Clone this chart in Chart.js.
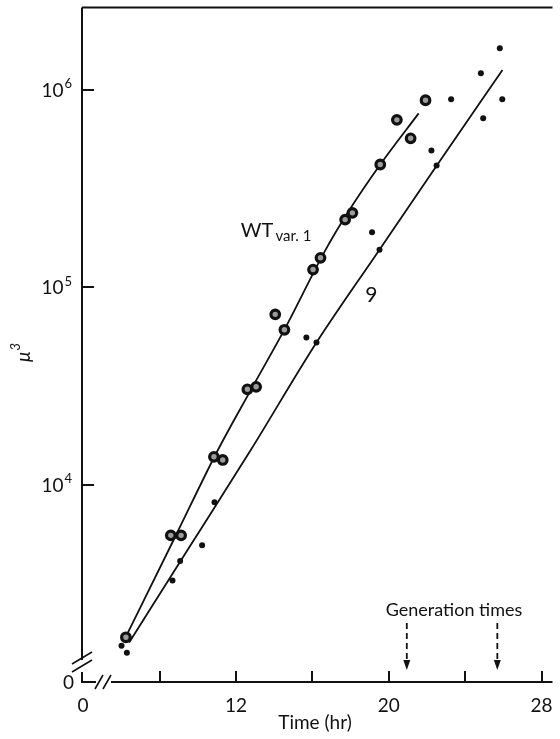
<!DOCTYPE html>
<html>
<head>
<meta charset="utf-8">
<script src="https://cdn.jsdelivr.net/npm/chart.js@4"></script>
<style>
  html, body { margin: 0; padding: 0; background: #fff; }
  canvas { display: block; }
</style>
</head>
<body>
<canvas id="growth" width="560" height="739"></canvas>
<script>
// cell volume (cubic microns) against time for two strains, log scale
const wtHours = [6.23, 8.58, 9.12, 10.84, 11.30, 12.59, 13.05, 14.05, 14.53, 16.03, 16.42, 17.71, 18.09, 19.55, 20.42, 21.14, 21.92];
const wtVolumes = [1700, 5570, 5570, 13900, 13400, 30500, 31400, 73000, 61000, 123000, 141000, 220000, 238000, 418000, 703000, 567000, 883000];

const s9Hours = [6.00, 6.28, 8.67, 9.07, 10.22, 10.87, 15.68, 16.21, 19.12, 19.51, 22.23, 22.50, 23.26, 24.82, 24.94, 25.81, 25.94];
const s9Volumes = [1540, 1420, 3290, 4130, 4960, 8180, 55700, 52600, 190000, 155000, 492000, 413000, 893000, 1210000, 716000, 1620000, 893000];

// hand-fitted curves
const wtFitHours = [6.23, 8.81, 11.04, 12.79, 14.53, 16.67, 17.85, 19.55, 21.56];
const wtFitVolumes = [1714, 5480, 15000, 30500, 61100, 153800, 239000, 418000, 758000];
const s9FitHours = [6.40, 9.49, 12.76, 16.21, 19.51, 22.51, 25.95];
const s9FitVolumes = [1600, 4750, 15000, 52600, 155000, 413000, 1257000];

const xTicks = [8, 12, 16, 20, 24, 28];
const xTickLabels = ['', '12', '', '20', '', '28'];
const yTicks = [1e4, 1e5, 1e6];
const yTickExponents = ['4', '5', '6'];
const generationTimes = [20.94, 25.68];

const FONT = 'Lato, "Open Sans", sans-serif';
const INK = '#111';

const pairs = (xs, ys) => xs.map((x, i) => ({ x, y: ys[i] }));

const paperAxes = {
  id: 'paperAxes',
  beforeDatasetsDraw(chart) {
    const { ctx, chartArea: a, scales: { x, y } } = chart;
    ctx.save();
    ctx.strokeStyle = INK;
    ctx.lineWidth = 2;
    ctx.lineCap = 'butt';

    // frame: top edge, y axis with break, x axis with break
    ctx.beginPath();
    ctx.moveTo(a.left, a.top);
    ctx.lineTo(a.right, a.top);
    ctx.moveTo(a.left, a.top);
    ctx.lineTo(a.left, a.bottom - 22);
    ctx.moveTo(a.left, a.bottom - 10);
    ctx.lineTo(a.left, a.bottom);
    ctx.lineTo(a.left + 14, a.bottom);
    ctx.moveTo(a.left + 29, a.bottom);
    ctx.lineTo(a.right, a.bottom);
    ctx.stroke();

    // break marks
    ctx.lineWidth = 1.6;
    ctx.beginPath();
    [[a.left, a.bottom - 24], [a.left, a.bottom - 16]].forEach(([cx, cy]) => {
      ctx.moveTo(cx - 10, cy + 6);
      ctx.lineTo(cx + 10, cy - 6);
    });
    [[a.left + 17, a.bottom], [a.left + 25, a.bottom]].forEach(([cx, cy]) => {
      ctx.moveTo(cx - 4, cy + 7);
      ctx.lineTo(cx + 4, cy - 7);
    });
    ctx.stroke();

    // inward ticks
    ctx.lineWidth = 2;
    ctx.beginPath();
    xTicks.forEach((v) => {
      const px = Math.round(x.getPixelForValue(v));
      ctx.moveTo(px, a.bottom);
      ctx.lineTo(px, a.bottom - 11);
    });
    yTicks.forEach((v) => {
      const py = Math.round(y.getPixelForValue(v));
      ctx.moveTo(a.left, py);
      ctx.lineTo(a.left + 12, py);
    });
    ctx.stroke();
    ctx.restore();
  },
  afterDraw(chart) {
    const { ctx, chartArea: a, scales: { x, y } } = chart;
    ctx.save();
    ctx.fillStyle = INK;
    ctx.strokeStyle = INK;

    // y tick labels as powers of ten
    ctx.textBaseline = 'middle';
    yTicks.forEach((v, i) => {
      const py = y.getPixelForValue(v);
      ctx.font = `13px ${FONT}`;
      const ew = ctx.measureText(yTickExponents[i]).width;
      ctx.font = `19px ${FONT}`;
      const bw = ctx.measureText('10').width;
      const right = a.left - 10;
      ctx.textAlign = 'left';
      ctx.fillText('10', right - ew - bw - 1, py + 1);
      ctx.font = `13px ${FONT}`;
      ctx.fillText(yTickExponents[i], right - ew, py - 6);
    });

    // broken-axis zeros
    ctx.font = `19px ${FONT}`;
    ctx.textAlign = 'right';
    ctx.fillText('0', a.left - 8, a.bottom + 1);
    ctx.textAlign = 'center';
    ctx.fillText('0', a.left + 1, a.bottom + 24);

    xTicks.forEach((v, i) => {
      if (!xTickLabels[i]) return;
      ctx.fillText(xTickLabels[i], x.getPixelForValue(v), a.bottom + 24);
    });

    ctx.fillText('Time (hr)', 315, a.bottom + 41);

    // y axis title
    ctx.save();
    ctx.translate(22, 352);
    ctx.rotate(-Math.PI / 2);
    ctx.font = `italic 19px ${FONT}`;
    ctx.textAlign = 'left';
    const mw = ctx.measureText('\u03bc').width;
    ctx.fillText('\u03bc', -10, 2);
    ctx.font = `italic 13px ${FONT}`;
    ctx.fillText('3', -10 + mw + 1, -6);
    ctx.restore();

    // series names
    ctx.textAlign = 'left';
    ctx.textBaseline = 'alphabetic';
    const wx = x.getPixelForValue(12.25);
    const wy = y.getPixelForValue(179000);
    ctx.font = `20px ${FONT}`;
    ctx.fillText('WT', wx, wy);
    const tw = ctx.measureText('WT').width;
    ctx.font = `15px ${FONT}`;
    ctx.fillText('var. 1', wx + tw + 2, wy + 4);
    ctx.font = `21px ${FONT}`;
    ctx.fillText('9', x.getPixelForValue(18.77), y.getPixelForValue(84000));

    // generation time arrows
    ctx.font = `18px ${FONT}`;
    ctx.textAlign = 'center';
    ctx.textBaseline = 'middle';
    ctx.fillText('Generation times', 454, a.bottom - 72);
    ctx.lineWidth = 1.8;
    generationTimes.forEach((h) => {
      const px = x.getPixelForValue(h);
      const top = a.bottom - 59;
      const tip = a.bottom - 12;
      ctx.setLineDash([6, 4]);
      ctx.beginPath();
      ctx.moveTo(px, top);
      ctx.lineTo(px, tip - 6);
      ctx.stroke();
      ctx.setLineDash([]);
      ctx.beginPath();
      ctx.moveTo(px, tip);
      ctx.lineTo(px - 3.5, tip - 10);
      ctx.lineTo(px + 3.5, tip - 10);
      ctx.closePath();
      ctx.fill();
    });
    ctx.restore();
  },
};

new Chart(document.getElementById('growth'), {
  type: 'scatter',
  data: {
    datasets: [
      {
        label: 'WT var. 1',
        data: pairs(wtHours, wtVolumes),
        pointRadius: 4.3,
        pointBorderWidth: 3.2,
        pointBorderColor: INK,
        pointBackgroundColor: '#9c9c9c',
      },
      {
        label: '9',
        data: pairs(s9Hours, s9Volumes),
        pointRadius: 3,
        pointBorderWidth: 0,
        pointBackgroundColor: INK,
      },
      {
        label: 'WT fit',
        data: pairs(wtFitHours, wtFitVolumes),
        showLine: true,
        cubicInterpolationMode: 'monotone',
        borderColor: INK,
        borderWidth: 1.8,
        pointRadius: 0,
      },
      {
        label: '9 fit',
        data: pairs(s9FitHours, s9FitVolumes),
        showLine: true,
        cubicInterpolationMode: 'monotone',
        borderColor: INK,
        borderWidth: 1.8,
        pointRadius: 0,
      },
    ],
  },
  options: {
    responsive: false,
    devicePixelRatio: 1,
    animation: false,
    layout: { padding: { left: 82, top: 7, right: 0, bottom: 57 } },
    plugins: { legend: { display: false }, tooltip: { enabled: false } },
    scales: {
      x: { type: 'linear', min: 3.93, max: 28.57, display: false },
      y: { type: 'logarithmic', min: 1010, max: 2.6e6, display: false },
    },
  },
  plugins: [paperAxes],
});
</script>
</body>
</html>
